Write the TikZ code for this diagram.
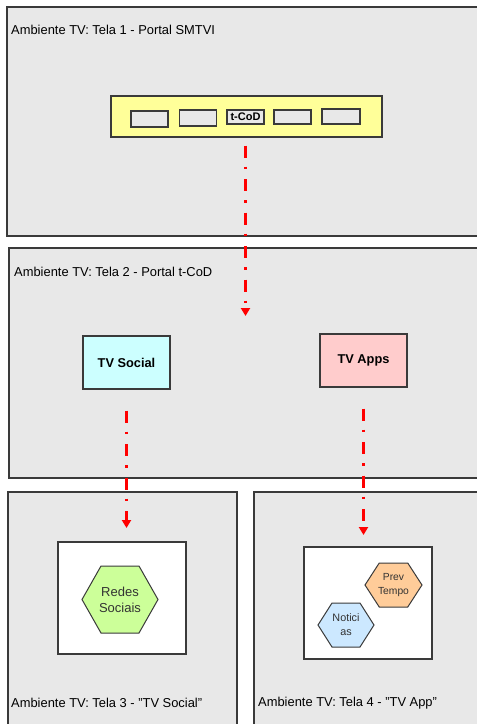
\documentclass[tikz,border=0pt]{standalone}
\usepackage{fontspec}
\setmainfont{Liberation Sans}
\usetikzlibrary{arrows.meta}
\definecolor{panelgray}{HTML}{E8E8E8}
\definecolor{edge}{HTML}{3A3A3A}
\definecolor{baryellow}{HTML}{FFFF99}
\definecolor{socialcyan}{HTML}{CCFFFF}
\definecolor{appspink}{HTML}{FFCCCC}
\definecolor{redesgreen}{HTML}{CCFF99}
\definecolor{prevorange}{HTML}{FFCC99}
\definecolor{noticblue}{HTML}{CCE8FF}
\definecolor{hextext}{HTML}{333333}

% hexagon with flat top and bottom: name, cx, cy, half width, half height, fill, text, font
\newcommand\hexbox[8]{%
  \draw[hexline,fill=#6] (#2-#4,#3) -- (#2-#4/2,#3-#5) -- (#2+#4/2,#3-#5)
     -- (#2+#4,#3) -- (#2+#4/2,#3+#5) -- (#2-#4/2,#3+#5) -- cycle;
  \node[hextxt,font=#8] (#1) at (#2,#3) {#7};
}

\begin{document}
\begin{tikzpicture}[x=1pt,y=-1pt,
  panel/.style={draw=edge,line width=1.2pt,fill=panelgray},
  lbl/.style={anchor=west,inner sep=0pt,font=\fontsize{12.9}{15}\selectfont,text=black},
  bar/.style={draw=edge,line width=1.2pt,fill=baryellow},
  slot/.style={draw=edge,line width=1.2pt,fill=panelgray,inner sep=0pt},
  menubox/.style={draw=edge,line width=1.2pt,inner sep=0pt,font=\bfseries\fontsize{12.8}{14}\selectfont},
  whitebox/.style={draw=edge,line width=1.2pt,fill=white},
  hexline/.style={draw=edge,line width=1pt},
  hextxt/.style={align=center,inner sep=0pt,text=hextext},
  flow/.style={red,line width=3pt,dash pattern=on 12pt off 9pt on 2.5pt off 10pt,
    -{Triangle[width=9pt,length=8pt]}}
]
\useasboundingbox (0,0) rectangle (477,724);
\fill[white] (0,0) rectangle (477,724);
\clip (0,0) rectangle (477,724);

% screens
\draw[panel] (7,7) rectangle (495,236);
\draw[panel] (9,248) rectangle (495,478);
\draw[panel] (8,492) rectangle (237,740);
\draw[panel] (254,492) rectangle (495,740);

\node[lbl] (l1) at (11,30) {Ambiente TV: Tela 1 - Portal SMTVI};
\node[lbl] (l2) at (14,272) {Ambiente TV: Tela 2 - Portal t-CoD};
\node[lbl] (l3) at (11,703) {Ambiente TV: Tela 3 - "TV Social"};
\node[lbl] (l4) at (258,703) {Ambiente TV: Tela 4 - "TV App"};

% portal menu bar
\draw[bar] (111,96) rectangle (382,137);
\node[slot,minimum width=37pt,minimum height=16pt] (s1) at (149.5,119) {};
\node[slot,minimum width=37pt,minimum height=16pt] (s2) at (198,118) {};
\node[slot,minimum width=37pt,minimum height=14pt,font=\bfseries\fontsize{11}{12}\selectfont] (tcod) at (245.5,117) {t-CoD};
\node[slot,minimum width=37pt,minimum height=14pt] (s4) at (292.5,117) {};
\node[slot,minimum width=38pt,minimum height=15pt] (s5) at (341,116.5) {};

% t-CoD choices
\node[menubox,fill=socialcyan,minimum width=87pt,minimum height=53pt] (social) at (126.5,362.5) {TV Social};
\node[menubox,fill=appspink,minimum width=87pt,minimum height=53pt] (apps) at (363.5,360.5) {TV Apps};

% application screens
\draw[whitebox] (58,542) rectangle (186,654);
\draw[whitebox] (304,547) rectangle (432,659);
\hexbox{redes}{120}{599.5}{38}{33.5}{redesgreen}{Redes\\Sociais}{\fontsize{13}{16}\selectfont}
\hexbox{prev}{393.5}{585}{28.5}{22}{prevorange}{Prev\\Tempo}{\fontsize{10.3}{14}\selectfont}
\hexbox{notic}{346}{625}{28}{22}{noticblue}{Notici\\as}{\fontsize{10.8}{14}\selectfont}

% navigation
\coordinate (a1s) at ([yshift=-21pt]tcod.south);
\coordinate (a1e) at (246,316);
\coordinate (a2s) at ([yshift=-21pt]social.south);
\coordinate (a2e) at (125,528);
\coordinate (a3s) at ([yshift=-21pt]apps.south);
\coordinate (a3e) at (364,535);
\draw[flow] (a1s) -- (a1s |- a1e);
\draw[flow] (a2s) -- (a2s |- a2e);
\draw[flow] (a3s) -- (a3s |- a3e);
\end{tikzpicture}
\end{document}
